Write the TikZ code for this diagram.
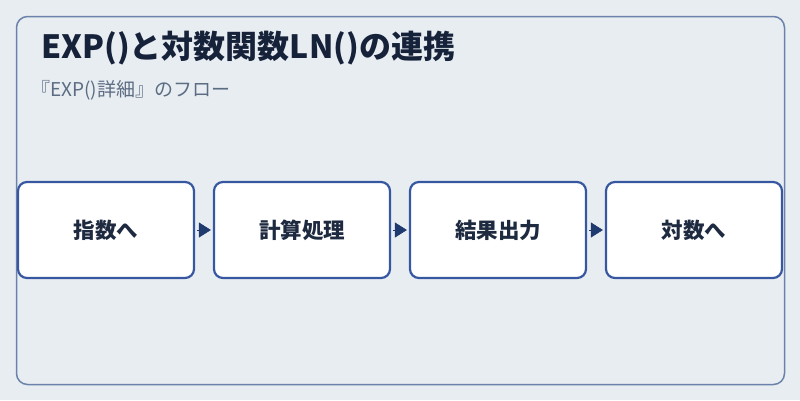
\documentclass[tikz,border=0pt]{standalone}
\usepackage{fontspec}
\setmainfont{Noto Sans CJK JP}
\usetikzlibrary{arrows.meta}
\definecolor{bgc}{HTML}{E8EDF2}
\definecolor{framec}{HTML}{6B82AA}
\definecolor{boxc}{HTML}{3758A0}
\definecolor{arrc}{HTML}{1F3A6E}
\definecolor{titlec}{HTML}{16223A}
\definecolor{subc}{HTML}{5C6C82}
\definecolor{txtc}{HTML}{1E2A40}
\tikzset{
  x=1pt,y=-1pt,
  stepbox/.style={draw=boxc, line width=2.2pt, fill=white, rounded corners=9pt,
    minimum width=176pt, minimum height=96pt, inner sep=0pt,
    font=\fontsize{21.5}{26}\selectfont\bfseries, text=txtc},
  flowarrow/.style={draw=arrc, line width=0.6pt, -{Triangle[length=12pt,width=15pt]}, color=arrc, shorten <=2pt, shorten >=2pt}
}
\begin{document}
\begin{tikzpicture}
\useasboundingbox (0,0) rectangle (800,400);
\fill[bgc] (0,0) rectangle (800,400);
\draw[framec, line width=1.5pt, rounded corners=11pt] (16.5,16.5) rectangle (784.5,384.5);
\node[anchor=base west, inner sep=0pt, text=titlec, font=\fontsize{32}{38}\selectfont\bfseries] (title) at (41,58) {EXP()と対数関数LN()の連携};
\node[anchor=base west, inner sep=0pt, text=subc, font=\fontsize{19}{22}\selectfont] (sub) at (31,96) {『EXP()詳細』のフロー};
\node[stepbox] (b1) at (106,230) {指数へ};
\node[stepbox] (b2) at (302,230) {計算処理};
\node[stepbox] (b3) at (498,230) {結果出力};
\node[stepbox] (b4) at (694,230) {対数へ};
\draw[flowarrow] (b1.east) -- (b2.west);
\draw[flowarrow] (b2.east) -- (b3.west);
\draw[flowarrow] (b3.east) -- (b4.west);
\end{tikzpicture}
\end{document}
